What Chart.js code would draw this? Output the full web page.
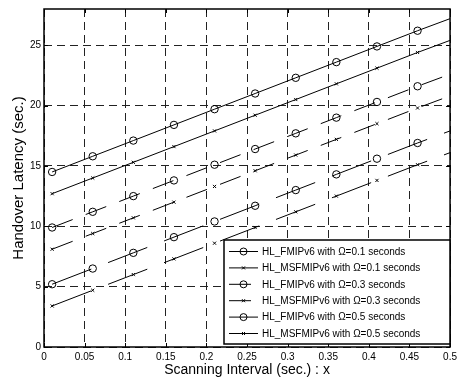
<!DOCTYPE html>
<html>
<head>
<meta charset="utf-8">
<script src="https://cdn.jsdelivr.net/npm/chart.js@4.4.1/dist/chart.umd.min.js"></script>
<style>
  html, body { margin: 0; padding: 0; background: #fff; }
  #wrap { width: 461px; height: 383px; }
</style>
</head>
<body>
<div id="wrap"><canvas id="latencyChart" width="461" height="383"></canvas></div>
<script>
// scanning interval (markers every 0.05, line runs on to 0.5)
var scanX = [0.01, 0.06, 0.11, 0.16, 0.21, 0.26, 0.31, 0.36, 0.41, 0.46, 0.5];

var fmip01   = [14.5, 15.8, 17.1, 18.4, 19.7, 21.0, 22.3, 23.6, 24.9, 26.2, 27.2];
var msfmip01 = [12.7, 14.0, 15.3, 16.6, 17.9, 19.2, 20.5, 21.8, 23.1, 24.4, 25.4];
var fmip03   = [9.9, 11.2, 12.5, 13.8, 15.1, 16.4, 17.7, 19.0, 20.3, 21.6, 22.6];
var msfmip03 = [8.1, 9.4, 10.7, 12.0, 13.3, 14.6, 15.9, 17.2, 18.5, 19.8, 20.8];
var fmip05   = [5.2, 6.5, 7.8, 9.1, 10.4, 11.7, 13.0, 14.3, 15.6, 16.9, 17.9];
var msfmip05 = [3.4, 4.7, 6.0, 7.3, 8.6, 9.9, 11.2, 12.5, 13.8, 15.1, 16.1];

var seriesLabels = [
    'HL_FMIPv6 with \u03A9=0.1 seconds',
    'HL_MSFMIPv6 with \u03A9=0.1 seconds',
    'HL_FMIPv6 with \u03A9=0.3 seconds',
    'HL_MSFMIPv6 with \u03A9=0.3 seconds',
    'HL_FMIPv6 with \u03A9=0.5 seconds',
    'HL_MSFMIPv6 with \u03A9=0.5 seconds'
];

var FONT = "'Liberation Sans', Arial, Helvetica, sans-serif";

function makeSet(label, values, marker, dash) {
    var circle = marker === 'circle';
    return {
        label: label,
        data: values.map(function (v, i) { return { x: scanX[i], y: v }; }),
        borderColor: '#000',
        borderWidth: 1,
        borderDash: dash,
        pointStyle: marker,
        pointRadius: values.map(function (v, i) { return i < values.length - 1 ? (circle ? 3.7 : 2.2) : 0; }),
        pointBorderColor: '#000',
        pointBackgroundColor: 'rgba(0,0,0,0)',
        pointBorderWidth: 1,
        tension: 0,
        fill: false
    };
}

var datasets = [
    makeSet(seriesLabels[0], fmip01, 'circle', []),
    makeSet(seriesLabels[1], msfmip01, 'crossRot', []),
    makeSet(seriesLabels[2], fmip03, 'circle', [22, 14]),
    makeSet(seriesLabels[3], msfmip03, 'crossRot', [22, 14]),
    makeSet(seriesLabels[4], fmip05, 'circle', [42, 18]),
    makeSet(seriesLabels[5], msfmip05, 'crossRot', [42, 18])
];

// matlab-like frame with inward ticks, and the boxed legend
var framePlugin = {
    id: 'frame',
    afterDatasetsDraw: function (chart) {
        var ctx = chart.ctx, a = chart.chartArea;
        var xs = chart.scales.x, ys = chart.scales.y;
        ctx.save();
        ctx.strokeStyle = '#000';
        ctx.lineWidth = 1;
        ctx.setLineDash([]);
        ctx.beginPath();
        xs.ticks.forEach(function (t) {
            var px = Math.round(xs.getPixelForValue(t.value)) + 0.5;
            ctx.moveTo(px, a.bottom); ctx.lineTo(px, a.bottom - 4);
            ctx.moveTo(px, a.top); ctx.lineTo(px, a.top + 4);
        });
        ys.ticks.forEach(function (t) {
            var py = Math.round(ys.getPixelForValue(t.value)) + 0.5;
            ctx.moveTo(a.left, py); ctx.lineTo(a.left + 4, py);
            ctx.moveTo(a.right, py); ctx.lineTo(a.right - 4, py);
        });
        ctx.stroke();
        ctx.lineWidth = 1.5;
        ctx.strokeRect(a.left, a.top, a.right - a.left, a.bottom - a.top);

        // legend
        var bx = 224, by = 240, bw = 226, bh = 104;
        ctx.fillStyle = '#fff';
        ctx.fillRect(bx, by, bw, bh);
        ctx.lineWidth = 1.5;
        ctx.strokeRect(bx, by, bw, bh);
        ctx.font = '10px ' + FONT;
        ctx.textBaseline = 'middle';
        ctx.textAlign = 'left';
        chart.data.datasets.forEach(function (ds, i) {
            var y = by + 11.5 + i * 16.4;
            ctx.lineWidth = 1;
            ctx.setLineDash(ds.borderDash || []);
            ctx.beginPath();
            ctx.moveTo(229, y); ctx.lineTo(258, y);
            ctx.stroke();
            ctx.setLineDash([]);
            ctx.beginPath();
            if (ds.pointStyle === 'circle') {
                ctx.arc(243.5, y, 3.5, 0, Math.PI * 2);
            } else {
                ctx.moveTo(242, y - 1.5); ctx.lineTo(245, y + 1.5);
                ctx.moveTo(242, y + 1.5); ctx.lineTo(245, y - 1.5);
            }
            ctx.stroke();
            ctx.fillStyle = '#000';
            ctx.fillText(ds.label, 262, y + 0.5);
        });
        ctx.restore();
    }
};

function keepFives(s) {
    s.ticks = s.ticks.filter(function (t) { return Math.abs(t.value / 5 - Math.round(t.value / 5)) < 1e-6; });
}

new Chart(document.getElementById('latencyChart').getContext('2d'), {
    type: 'line',
    data: { datasets: datasets },
    plugins: [framePlugin],
    options: {
        responsive: false,
        animation: false,
        layout: { padding: { top: 4, right: 9, left: 0, bottom: 0 } },
        plugins: { legend: { display: false }, tooltip: { enabled: false } },
        scales: {
            x: {
                type: 'linear',
                min: 0,
                max: 0.5,
                afterFit: function (s) { s.height = 36; },
                ticks: {
                    stepSize: 0.05,
                    padding: 4,
                    color: '#000',
                    font: { family: FONT, size: 10 },
                    callback: function (v) { return +v.toFixed(2); }
                },
                grid: { color: '#222', lineWidth: 1, drawTicks: false },
                border: { display: false, dash: [8, 5] },
                title: {
                    display: true,
                    text: 'Scanning Interval (sec.) : x',
                    color: '#000',
                    font: { family: FONT, size: 14 },
                    padding: { top: 0, bottom: 4 }
                }
            },
            y: {
                min: 0,
                max: 28,
                afterBuildTicks: keepFives,
                afterFit: function (s) { s.width = 44; },
                ticks: {
                    stepSize: 5,
                    padding: 3,
                    color: '#000',
                    font: { family: FONT, size: 10 }
                },
                grid: { color: '#222', lineWidth: 1, drawTicks: false },
                border: { display: false, dash: [8, 5] },
                title: {
                    display: true,
                    text: 'Handover Latency (sec.)',
                    color: '#000',
                    font: { family: FONT, size: 15 },
                    padding: { top: 10, bottom: 0 }
                }
            }
        }
    }
});
</script>
</body>
</html>
